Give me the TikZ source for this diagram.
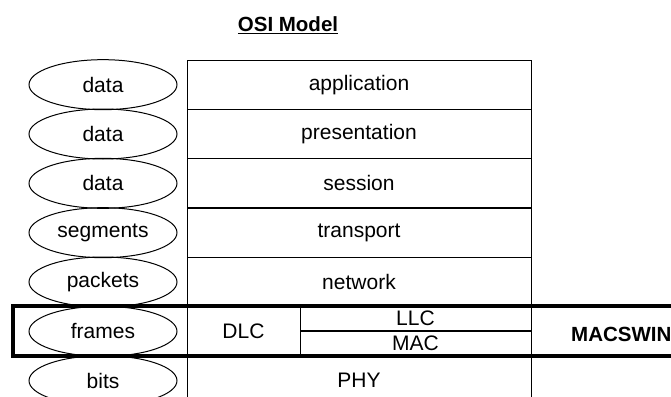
\documentclass[tikz,border=0pt]{standalone}
\usepackage{fontspec}
\setmainfont{Liberation Sans}
\usetikzlibrary{shapes.geometric}
\begin{document}
\begin{tikzpicture}[x=1pt,y=-1pt,
  txt/.style={font=\fontsize{21}{25}\selectfont},
  boldtxt/.style={font=\fontsize{20.5}{25}\selectfont\bfseries},
  unit/.style={txt, draw, ellipse, line width=1pt, minimum width=148pt, minimum height=50pt, inner sep=0pt},
  layer/.style={txt, draw, rectangle, line width=1pt, minimum width=344pt, minimum height=49.33pt, inner sep=0pt},
  sublayer/.style={txt, draw, rectangle, line width=1pt, minimum width=231pt, minimum height=24.67pt, inner sep=0pt},
  highlight/.style={draw, rectangle, line width=4.5pt, inner sep=0pt}]
\useasboundingbox (0,0) rectangle (671,396);
\clip (0,0) rectangle (671,396);

% title
\node[boldtxt, anchor=base] (title) at (288,32) {\underline{OSI Model}};

% protocol data units
\node[unit] (pdu1) at (103,84.67)  {data};
\node[unit] (pdu2) at (103,134)    {data};
\node[unit] (pdu3) at (103,183.33) {data};
\node[unit] (pdu4) at (103,232.67) {segments};
\node[unit] (pdu5) at (103,282)    {packets};
\node[unit] (pdu6) at (103,331.33) {frames};
\node[unit] (pdu7) at (103,380.67) {bits};

% layer stack
\node[layer] (app)   at (359,84.67)  {application};
\node[layer] (pres)  at (359,134)    {presentation};
\node[layer] (sess)  at (359,183.33) {session};
\node[layer] (trans) at (359,232.67) {transport};
\node[layer] (net)   at (359,282)    {network};
\node[layer, minimum width=113pt] (dlc) at (243.5,331.33) {DLC};
\node[sublayer] (llc) at (415.5,318.67) {LLC};
\node[sublayer] (mac) at (415.5,343.33) {MAC};
\node[layer] (phy)   at (359,380.67) {PHY};

% highlighted data link row
\node[highlight, minimum width=707pt, minimum height=50pt] (dlrow) at (366.5,331) {};
\node[boldtxt, anchor=base west, inner sep=0pt] (macswin) at (571,341) {MACSWIN};
\end{tikzpicture}
\end{document}
